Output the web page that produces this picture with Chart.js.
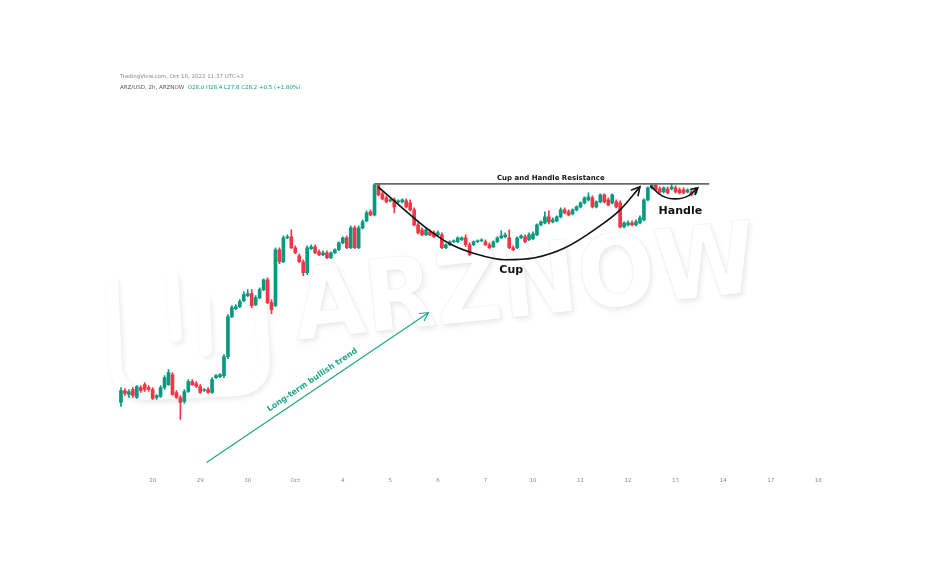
<!DOCTYPE html>
<html>
<head>
<meta charset="utf-8">
<script src="https://cdn.jsdelivr.net/npm/chart.js@4.4.1/dist/chart.umd.min.js"></script>
<style>
  html, body { margin: 0; padding: 0; background: #fff; }
  canvas { display: block; }
</style>
</head>
<body>
<canvas id="myChart" width="944" height="572"></canvas>
<script>
// candles (one per bar, oldest first)
const opens = [6.9, 8.1, 7.7, 8.2, 7.4, 8.4, 8.7, 8.4, 8.2, 7.4, 7.5, 8.4, 8.7, 9.7, 7.9, 7.4, 7.0, 8.0, 9.0, 8.8,
  8.5, 8.1, 8.2, 7.9, 9.4, 9.5, 9.6, 11.5, 15.5, 16.3, 16.5, 17.1, 17.6, 17.8, 16.7, 17.4, 18.2, 19.2, 16.9, 16.6,
  22.2, 21.0, 23.4, 23.5, 22.4, 21.6, 21.0, 19.9, 22.3, 22.5, 22.0, 21.7, 21.9, 21.4, 21.9, 22.2, 22.9, 23.4, 22.4, 24.4,
  22.4, 24.4, 25.1, 26.0, 25.7, 28.7, 27.8, 27.4, 27.1, 27.2, 27.0, 27.0, 27.1, 26.9, 26.2, 24.7, 24.2, 23.7, 24.0, 23.9,
  23.7, 23.7, 22.4, 22.7, 23.0, 23.0, 23.2, 23.4, 22.7, 22.7, 23.0, 23.1, 23.0, 22.7, 22.5, 23.0, 23.4, 23.5, 23.4, 22.4,
  22.4, 23.4, 23.5, 23.2, 23.3, 23.7, 24.7, 24.9, 25.5, 25.0, 25.1, 25.5, 26.2, 26.0, 25.8, 26.2, 26.5, 26.9, 27.2, 27.4,
  26.5, 27.0, 27.7, 27.2, 26.9, 27.0, 26.9, 24.5, 24.7, 24.9, 24.7, 24.9, 25.2, 27.2, 28.4, 28.7, 28.3, 28.0, 28.3, 28.3,
  28.4, 28.2, 28.2, 28.0, 28.0, 27.9];
const highs = [8.4, 8.3, 8.2, 8.4, 8.6, 8.6, 8.9, 8.6, 8.4, 7.7, 8.6, 9.6, 10.2, 9.9, 8.1, 7.6, 8.2, 9.2, 9.2, 9.0,
  8.7, 8.3, 8.4, 9.4, 9.7, 9.8, 11.7, 15.7, 16.6, 16.7, 17.2, 18.0, 18.2, 18.2, 17.6, 18.4, 19.3, 19.4, 17.2, 22.4,
  22.4, 23.6, 23.7, 24.2, 22.6, 21.8, 21.2, 22.6, 22.7, 22.7, 22.2, 22.1, 22.1, 22.0, 22.3, 23.0, 23.5, 23.6, 24.6, 24.6,
  24.6, 25.2, 26.1, 26.2, 28.8, 28.8, 28.0, 27.6, 27.3, 27.4, 27.2, 27.3, 27.3, 27.2, 26.4, 24.9, 24.4, 24.4, 24.2, 24.1,
  24.1, 23.9, 22.8, 23.1, 23.2, 23.5, 23.5, 23.7, 22.9, 23.1, 23.2, 23.3, 23.2, 22.9, 23.1, 23.5, 24.1, 23.9, 24.2, 22.6,
  23.5, 23.7, 23.7, 23.9, 24.0, 24.8, 25.1, 26.0, 26.1, 25.4, 25.6, 26.4, 26.4, 26.2, 26.3, 26.6, 27.0, 27.5, 27.9, 27.6,
  27.1, 27.8, 27.8, 27.4, 27.8, 27.2, 27.1, 25.0, 25.1, 25.1, 25.2, 25.6, 27.3, 28.5, 28.8, 28.8, 28.5, 28.5, 28.5, 28.8,
  28.6, 28.4, 28.4, 28.3, 28.2, 28.4];
const lows = [6.5, 7.6, 7.4, 7.4, 7.3, 7.9, 8.0, 8.0, 7.2, 7.2, 7.4, 8.2, 8.6, 7.6, 7.3, 5.2, 6.8, 7.9, 8.6, 8.4,
  7.8, 8.0, 7.8, 7.8, 9.3, 9.4, 9.4, 11.3, 15.4, 16.2, 16.4, 17.0, 17.5, 16.4, 16.6, 17.3, 18.1, 16.8, 15.8, 16.5,
  20.8, 20.9, 23.3, 22.3, 21.8, 20.9, 19.6, 19.7, 22.2, 21.8, 21.6, 21.6, 21.3, 21.3, 21.8, 22.1, 22.8, 22.3, 22.3, 22.3,
  22.3, 24.3, 25.0, 25.6, 25.6, 27.6, 27.2, 26.9, 27.0, 25.9, 26.9, 26.9, 26.4, 26.1, 24.6, 23.8, 23.6, 23.6, 23.6, 23.4,
  23.6, 22.3, 22.3, 22.6, 22.9, 22.9, 23.1, 22.5, 21.6, 22.6, 22.9, 23.0, 22.6, 22.3, 22.4, 22.9, 23.3, 23.4, 22.3, 22.1,
  22.3, 23.3, 22.9, 23.1, 23.2, 23.6, 24.6, 24.8, 24.8, 24.9, 25.0, 25.4, 25.8, 25.6, 25.7, 26.1, 26.4, 26.8, 27.1, 26.4,
  26.4, 26.9, 26.9, 26.6, 26.8, 26.4, 24.4, 24.4, 24.6, 24.6, 24.6, 24.8, 25.1, 27.1, 28.3, 28.1, 27.9, 27.9, 27.8, 28.2,
  27.9, 27.8, 27.8, 27.9, 27.6, 27.8];
const closes = [8.1, 7.8, 8.0, 7.6, 8.5, 8.1, 8.2, 8.2, 7.3, 7.6, 8.4, 9.4, 9.9, 7.7, 7.4, 6.9, 8.0, 9.0, 8.7, 8.5,
  7.9, 8.2, 7.9, 9.2, 9.6, 9.7, 11.5, 15.5, 16.4, 16.5, 17.0, 17.7, 17.8, 16.6, 17.4, 18.2, 19.2, 16.9, 16.2, 22.2,
  21.0, 23.4, 23.5, 22.4, 21.9, 21.0, 19.9, 22.4, 22.5, 21.9, 21.7, 21.9, 21.4, 21.9, 22.2, 22.9, 23.4, 22.4, 24.4, 22.4,
  24.4, 25.0, 25.9, 25.7, 28.7, 27.7, 27.3, 27.0, 27.2, 26.5, 27.1, 27.2, 26.5, 26.2, 24.7, 23.9, 23.7, 24.2, 23.7, 23.5,
  23.9, 22.4, 22.7, 23.0, 23.1, 23.4, 23.4, 22.7, 21.7, 23.0, 23.1, 23.2, 22.7, 22.4, 23.0, 23.4, 23.6, 23.7, 22.4, 22.2,
  23.4, 23.6, 23.0, 23.7, 23.8, 24.7, 25.0, 25.5, 25.0, 25.2, 25.5, 26.2, 25.9, 25.7, 26.2, 26.5, 26.9, 27.4, 27.5, 26.5,
  27.0, 27.7, 27.0, 26.7, 27.7, 26.5, 24.5, 24.9, 24.9, 24.7, 25.0, 25.4, 27.2, 28.4, 28.7, 28.2, 28.0, 28.4, 27.9, 28.5,
  28.0, 27.9, 27.9, 28.2, 27.7, 28.2];

// x axis: one label per trading day, 12 bars per day
const dayLabels = ['28', '29', '30', 'Oct', '4', '5', '6', '7', '10', '11', '12', '13', '14', '17', '18'];
const firstLabelBar = 8;
const barsPerDay = 12;

// drawings on top of the chart, in (bar, price) units
const resistance = { from: 64, to: 148.5, price: 28.8 };
const cupPoints = [[64.9, 28.5], [70.4, 26.6], [76.7, 24.5], [83.0, 22.8], [89.4, 21.8], [96.9, 21.2],
  [104.5, 21.4], [112.1, 22.4], [120.2, 24.4], [126.0, 26.2], [131.0, 28.5]];
const handlePoints = [[133.6, 28.6], [136.6, 27.6], [139.9, 27.3], [143.2, 27.6], [145.6, 28.4]];
const trendPoints = [[21.6, 0.9], [77.6, 15.9]];

const UP = '#089981';
const DOWN = '#f23645';
const TEAL = '#22a38c';

const idx = opens.map((_, i) => i);
const candleColor = (c) => closes[c.dataIndex] >= opens[c.dataIndex] ? UP : DOWN;
const tickValues = dayLabels.map((_, k) => firstLabelBar + k * barsPerDay);

function arrowHead(ctx, x0, y0, x1, y1, size, color, width) {
    const a = Math.atan2(y1 - y0, x1 - x0);
    ctx.save();
    ctx.strokeStyle = color;
    ctx.lineWidth = width;
    ctx.lineCap = 'round';
    ctx.beginPath();
    ctx.moveTo(x1 - size * Math.cos(a - 0.5), y1 - size * Math.sin(a - 0.5));
    ctx.lineTo(x1, y1);
    ctx.lineTo(x1 - size * Math.cos(a + 0.5), y1 - size * Math.sin(a + 0.5));
    ctx.stroke();
    ctx.restore();
}

const watermark = {
    id: 'watermark',
    beforeDatasetsDraw(chart) {
        const ctx = chart.ctx;
        ctx.save();
        ctx.shadowColor = 'rgba(0,0,0,0.08)';
        ctx.shadowBlur = 5;
        ctx.shadowOffsetX = 2;
        ctx.shadowOffsetY = 3;
        // logo
        ctx.strokeStyle = '#ffffff';
        ctx.lineWidth = 12;
        ctx.lineJoin = 'round';
        ctx.lineCap = 'round';
        ctx.beginPath();
        ctx.moveTo(112, 282);
        ctx.lineTo(116, 368);
        ctx.quadraticCurveTo(119, 394, 150, 394);
        ctx.lineTo(236, 390);
        ctx.quadraticCurveTo(264, 388, 264, 360);
        ctx.lineTo(260, 292);
        ctx.stroke();
        ctx.beginPath();
        ctx.moveTo(172, 276);
        ctx.lineTo(176, 336);
        ctx.moveTo(204, 300);
        ctx.lineTo(206, 350);
        ctx.stroke();
        // name
        ctx.translate(297, 340);
        ctx.rotate(-0.105);
        ctx.font = 'bold 100px "DejaVu Sans"';
        const w = ctx.measureText('ARZNOW').width;
        ctx.scale(465 / w, 1);
        ctx.fillStyle = '#ffffff';
        ctx.fillText('ARZNOW', 0, 0);
        ctx.shadowColor = 'transparent';
        ctx.strokeStyle = 'rgba(0,0,0,0.05)';
        ctx.lineWidth = 1;
        ctx.strokeText('ARZNOW', 0, 0);
        ctx.restore();
    }
};

const notes = {
    id: 'notes',
    afterDraw(chart) {
        const ctx = chart.ctx;
        const x = chart.scales.x, y = chart.scales.y;
        const px = (p) => [x.getPixelForValue(p[0]), y.getPixelForValue(p[1])];

        // header
        ctx.save();
        ctx.textBaseline = 'middle';
        ctx.font = '5.5px "DejaVu Sans"';
        ctx.fillStyle = '#8a8a8a';
        ctx.fillText('TradingView.com, Oct 18, 2022 11:37 UTC+3', 120, 77);
        ctx.fillStyle = '#555';
        const head = 'ARZ/USD, 2h, ARZNOW  ';
        ctx.fillText(head, 120, 88);
        ctx.fillStyle = UP;
        ctx.fillText('O28.0 H28.4 L27.8 C28.2 +0.5 (+1.80%)', 120 + ctx.measureText(head).width, 88);
        ctx.restore();

        // arrow heads
        const c1 = px(cupPoints[cupPoints.length - 2]), c2 = px(cupPoints[cupPoints.length - 1]);
        arrowHead(ctx, c1[0], c1[1], c2[0], c2[1], 9, '#111', 1.6);
        const h1 = px(handlePoints[handlePoints.length - 2]), h2 = px(handlePoints[handlePoints.length - 1]);
        arrowHead(ctx, h1[0], h1[1], h2[0], h2[1], 7, '#111', 1.6);
        const t1 = px(trendPoints[0]), t2 = px(trendPoints[1]);
        arrowHead(ctx, t1[0], t1[1], t2[0], t2[1], 9, TEAL, 1.2);

        // labels
        ctx.save();
        ctx.fillStyle = '#111';
        ctx.textAlign = 'center';
        ctx.textBaseline = 'middle';
        ctx.font = 'bold 7px "DejaVu Sans"';
        ctx.fillText('Cup and Handle Resistance', x.getPixelForValue(108.5), y.getPixelForValue(29.4));
        ctx.font = 'bold 11px "DejaVu Sans"';
        ctx.fillText('Cup', x.getPixelForValue(98.5), y.getPixelForValue(20.2));
        ctx.fillText('Handle', x.getPixelForValue(141.2), y.getPixelForValue(26.1));
        // trend label along the arrow
        const ang = Math.atan2(t2[1] - t1[1], t2[0] - t1[0]);
        const mx = (t1[0] + t2[0]) / 2, my = (t1[1] + t2[1]) / 2;
        ctx.translate(mx, my);
        ctx.rotate(ang);
        ctx.fillStyle = TEAL;
        ctx.font = 'bold 8px "DejaVu Sans"';
        ctx.fillText('Long-term bullish trend', 0, -9);
        ctx.restore();
    }
};

let ctx = document.getElementById('myChart').getContext('2d');
let myChart = new Chart(ctx, {
    type: 'bar',
    data: {
        datasets: [{
            type: 'line',
            label: 'resistance',
            data: [{x: resistance.from, y: resistance.price}, {x: resistance.to, y: resistance.price}],
            borderColor: '#6b6b6b',
            borderWidth: 1.6,
            pointRadius: 0,
            order: 0
        }, {
            type: 'line',
            label: 'cup',
            data: cupPoints.map(p => ({x: p[0], y: p[1]})),
            borderColor: '#111',
            borderWidth: 1.6,
            pointRadius: 0,
            cubicInterpolationMode: 'monotone',
            order: 0
        }, {
            type: 'line',
            label: 'handle',
            data: handlePoints.map(p => ({x: p[0], y: p[1]})),
            borderColor: '#111',
            borderWidth: 1.6,
            pointRadius: 0,
            cubicInterpolationMode: 'monotone',
            order: 0
        }, {
            type: 'line',
            label: 'trend',
            data: trendPoints.map(p => ({x: p[0], y: p[1]})),
            borderColor: TEAL,
            borderWidth: 1.2,
            pointRadius: 0,
            order: 0
        }, {
            label: 'wick',
            data: idx.map(i => ({x: i, y: [lows[i], highs[i]]})),
            backgroundColor: candleColor,
            barThickness: 1,
            grouped: false,
            order: 2
        }, {
            label: 'body',
            data: idx.map(i => ({x: i, y: [opens[i], closes[i]]})),
            backgroundColor: candleColor,
            barThickness: 3,
            minBarLength: 1,
            grouped: false,
            order: 1
        }]
    },
    options: {
        responsive: false,
        animation: false,
        layout: { padding: { left: 117, right: 102, top: 112, bottom: 82 } },
        plugins: { legend: { display: false }, tooltip: { enabled: false } },
        scales: {
            x: {
                type: 'linear',
                offset: false,
                min: -1,
                max: 182,
                grid: { display: false, drawTicks: false },
                border: { display: false },
                afterBuildTicks: (s) => { s.ticks = tickValues.map(v => ({value: v})); },
                ticks: {
                    autoSkip: false,
                    maxRotation: 0,
                    padding: 6,
                    color: '#8a8a8a',
                    font: { size: 5.5, family: '"DejaVu Sans"' },
                    callback: (v) => dayLabels[tickValues.indexOf(v)]
                }
            },
            y: { min: 0, max: 36, display: false }
        }
    },
    plugins: [watermark, notes]
});
</script>
</body>
</html>
